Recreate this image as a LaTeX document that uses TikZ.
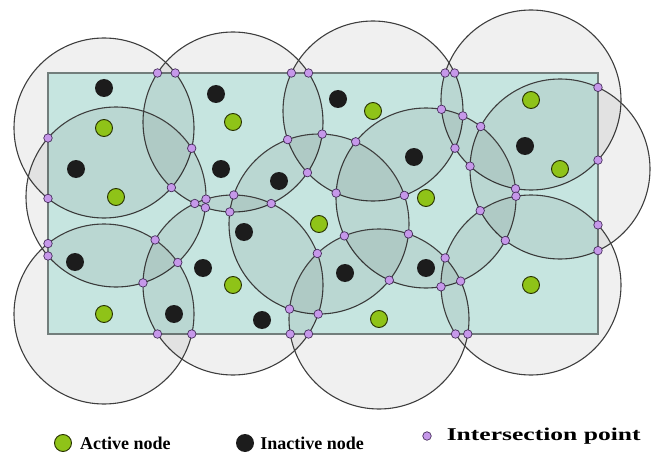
\documentclass[tikz,border=0pt]{standalone}
\usepackage{fontspec}
\setmainfont{Liberation Serif}
\usetikzlibrary{intersections,positioning}

\definecolor{fieldfill}{RGB}{211,244,238}
\definecolor{fieldline}{RGB}{122,134,132}
\definecolor{discline}{RGB}{62,62,62}
\definecolor{activefill}{RGB}{143,195,24}
\definecolor{activeline}{RGB}{38,48,0}
\definecolor{inactivefill}{RGB}{28,28,28}
\definecolor{iptfill}{RGB}{198,152,234}
\definecolor{iptline}{RGB}{70,46,92}

\tikzset{
  active/.style={shape=circle, draw=activeline, fill=activefill, line width=0.9pt, inner sep=0pt, minimum size=17pt},
  inactive/.style={shape=circle, fill=inactivefill, inner sep=0pt, minimum size=18pt},
  ipt/.style={shape=circle, draw=iptline, fill=iptfill, line width=0.7pt, inner sep=0pt, minimum size=8.5pt},
  disc/.style={draw=discline, line width=1.1pt, fill=black, fill opacity=0.06},
  legend/.style={font=\fontsize{18}{20}\selectfont\bfseries, inner sep=0pt}
}

\newcommand\markcross[2]{%
  \path[name intersections={of=#1 and #2, name=x, total=\t}]
    \foreach \k in {1,...,\t} {(x-\k) node[ipt] (m-#1-#2-\k) {}};}

\begin{document}
\begin{tikzpicture}[x=1pt, y=-1pt]
    \useasboundingbox (0,0) rectangle (654,452);

    \coordinate (fa) at (48,73);
    \coordinate (fb) at (598,334);
    \draw[name path global=field, draw=fieldline, fill=fieldfill, line width=1.5pt] (fa) rectangle (fb);

    \coordinate (c1) at (104,128);
    \coordinate (c2) at (233,122);
    \coordinate (c3) at (373,111);
    \coordinate (c4) at (531,100);
    \coordinate (c5) at (560,169);
    \coordinate (c6) at (116,197);
    \coordinate (c7) at (426,198);
    \coordinate (c8) at (319,224);
    \coordinate (c9) at (233,285);
    \coordinate (c10) at (104,314);
    \coordinate (c11) at (379,319);
    \coordinate (c12) at (531,285);

    \foreach \i in {1,...,12}
        \draw[disc, name path global=d\i] (c\i) circle (90pt);

    \foreach \i in {1,2,3,4,5,6,9,10,11,12}
        \path[name intersections={of=field and d\i, name=e, total=\t}]
            \foreach \k in {1,...,\t} {(e-\k) node[ipt] (b-\i-\k) {}};

    \begin{scope}
        \clip (fa) rectangle (fb);
        \foreach \a/\b in {1/2,1/6,2/3,2/8,2/9,3/4,3/7,3/8,4/5,4/7,5/7,5/12,6/9,6/10,7/8,7/11,7/12,8/9,8/11,9/10,9/11,11/12}
            {\markcross{d\a}{d\b}}
    \end{scope}
    \node[ipt] (m-d2-d6) at (205.4,207.7) {};

    \node[active] (a1) at (c1) {};
    \node[active] (a2) at (c2) {};
    \node[active] (a3) at (c3) {};
    \node[active] (a4) at (c4) {};
    \node[active] (a5) at (c5) {};
    \node[active] (a6) at (c6) {};
    \node[active] (a7) at (c7) {};
    \node[active] (a8) at (c8) {};
    \node[active] (a9) at (c9) {};
    \node[active] (a10) at (c10) {};
    \node[active] (a11) at (c11) {};
    \node[active] (a12) at (c12) {};

    \node[inactive] (n1) at (104,88) {};
    \node[inactive] (n2) at (216,94) {};
    \node[inactive] (n3) at (338,99) {};
    \node[inactive] (n4) at (76,169) {};
    \node[inactive] (n5) at (221,169) {};
    \node[inactive] (n6) at (279,181) {};
    \node[inactive] (n7) at (414,157) {};
    \node[inactive] (n8) at (525,146) {};
    \node[inactive] (n9) at (244,232) {};
    \node[inactive] (n10) at (75,262) {};
    \node[inactive] (n11) at (203,268) {};
    \node[inactive] (n12) at (345,273) {};
    \node[inactive] (n13) at (426,268) {};
    \node[inactive] (n14) at (174,314) {};
    \node[inactive] (n15) at (262,320) {};

    \node[active] (la) at (63,443) {};
    \node[legend, right=8pt of la] (lat) {Active node};
    \node[inactive] (li) at (245,443) {};
    \node[legend, right=6pt of li] (lit) {Inactive node};
    \node[ipt] (lp) at (427,436) {};
    \node[legend, right=15pt of lp] (lpt) {\scalebox{1.42}[1]{Intersection point}};
\end{tikzpicture}
\end{document}
